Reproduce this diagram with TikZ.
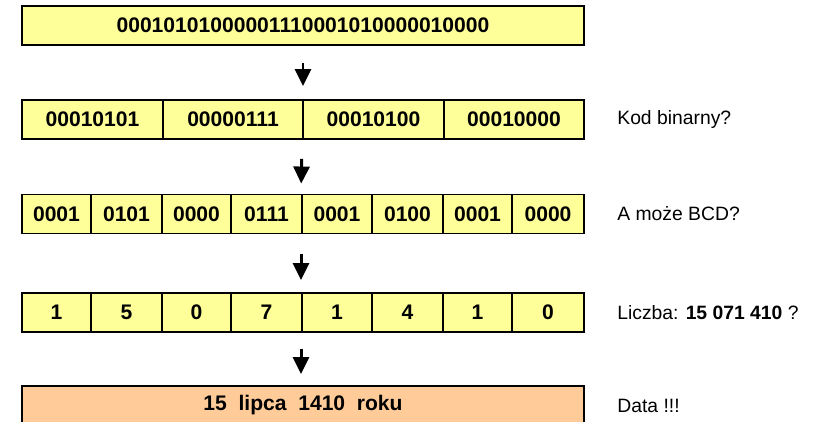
\documentclass[tikz,border=0pt]{standalone}
\usepackage{fontspec}
\setmainfont{Liberation Sans}
\usetikzlibrary{arrows.meta}

\definecolor{cellyellow}{HTML}{FFFF99}
\definecolor{dateorange}{HTML}{FFCC99}

\begin{document}
\begin{tikzpicture}[x=0.02cm,y=-0.02cm,
  cell/.style={draw,line width=1.1pt,fill=cellyellow,minimum height=0.78cm,
    inner sep=0pt,font=\fontsize{12}{14}\selectfont\bfseries},
  datecell/.style={cell,fill=dateorange},
  note/.style={anchor=west,inner sep=0pt,font=\fontsize{11}{13}\selectfont},
  arr/.style={-{Triangle[length=0.34cm,width=0.32cm]},line width=1.7pt}]
  \useasboundingbox (0,0) rectangle (821,422);
  \clip (0,0) rectangle (821,422);

  % raw bit string
  \node[cell,minimum width={(584-22)*0.02cm}] (bits) at (303,25.5)
    {00010101000001110001010000010000};

  % bytes
  \foreach \xa/\xb/\t [count=\i] in
    {22/163/00010101,163/303/00000111,303/444/00010100,444/584/00010000}
    \node[cell,minimum width={(\xb-\xa)*0.02cm}] (byte\i) at ({(\xa+\xb)/2},119.5) {\t};

  % nibbles
  \foreach \xa/\xb/\t [count=\i] in
    {22/91/0001,91/162/0101,162/231/0000,231/302/0111,
     302/372/0001,372/443/0100,443/512/0001,512/584/0000}
    \node[cell,minimum width={(\xb-\xa)*0.02cm}] (nib\i) at ({(\xa+\xb)/2},214) {\t};

  % digits
  \foreach \xa/\xb/\t [count=\i] in
    {22/91/1,91/162/5,162/231/0,231/302/7,
     302/372/1,372/443/4,443/512/1,512/584/0}
    \node[cell,minimum width={(\xb-\xa)*0.02cm}] (dig\i) at ({(\xa+\xb)/2},312.5) {\t};

  % date
  \node[datecell,minimum width={(584-22)*0.02cm}] (date) at (303,405.5)
    {15\ \ lipca\ \ 1410\ \ roku};

  \draw[arr,shorten <=0.34cm,shorten >=0.26cm] (bits.south) -- (bits.south |- byte3.north);
  \draw[arr,shorten <=0.38cm,shorten >=0.2cm] (byte3.north west |- byte3.south) -- (nib5.north west);
  \draw[arr,shorten <=0.4cm,shorten >=0.24cm] (nib5.south west) -- (dig5.north west);
  \draw[arr,shorten <=0.32cm,shorten >=0.22cm] (dig5.south west) -- (dig5.south west |- date.north);

  \node[note] (kod) at (617,119.5) {Kod binarny?};
  \node[note] (bcd) at (617,214) {A może BCD?};
  \node[note] (liczba) at (617,312.5) {Liczba: \textbf{15 071 410} ?};
  \node[note] (data) at (617,405.5) {Data !!!};
\end{tikzpicture}
\end{document}
